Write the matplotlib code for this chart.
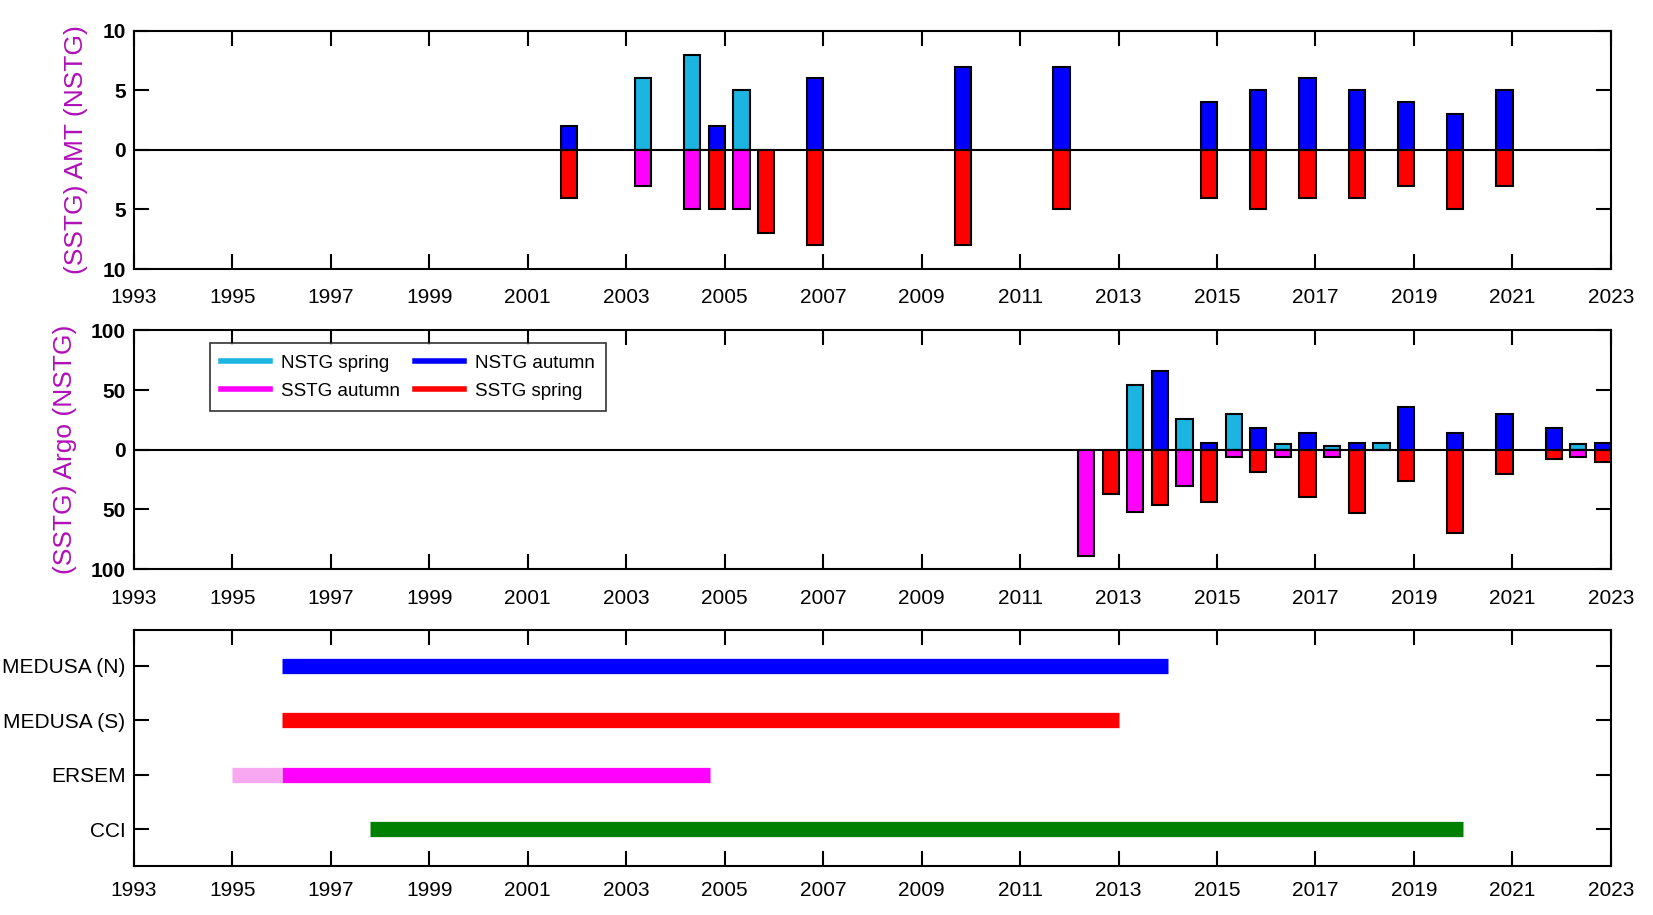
import numpy as np
import matplotlib
matplotlib.use('Agg')
import matplotlib.pyplot as plt
from matplotlib.lines import Line2D

plt.rcParams['font.family'] = ['Liberation Sans', 'DejaVu Sans']

# AMT cruises: spring cruises (NSTG spring / SSTG autumn), autumn cruises (NSTG autumn / SSTG spring)
amt_spring_x = [2003.34, 2004.34, 2005.34]
amt_nstg_spring = [6, 8, 5]
amt_sstg_autumn = [3, 5, 5]
amt_autumn_x = [2001.84, 2004.84, 2005.84, 2006.84, 2009.84, 2011.84, 2014.84,
                2015.84, 2016.84, 2017.84, 2018.84, 2019.84, 2020.84]
amt_nstg_autumn = [2, 2, 0, 6, 7, 7, 4, 5, 6, 5, 4, 3, 5]
amt_sstg_spring = [4, 5, 7, 8, 8, 5, 4, 5, 4, 4, 3, 5, 3]

# Argo floats
argo_spring_x = [2012.34, 2013.34, 2014.34, 2015.34, 2016.34, 2017.34, 2018.34, 2022.34]
argo_nstg_spring = [0, 54, 26, 30, 5, 3, 6, 5]
argo_sstg_autumn = [89, 52, 30, 6, 6, 6, 0, 6]
argo_autumn_x = [2012.84, 2013.84, 2014.84, 2015.84, 2016.84, 2017.84, 2018.84,
                 2019.84, 2020.84, 2021.84, 2022.84]
argo_nstg_autumn = [0, 66, 6, 18, 14, 6, 36, 14, 30, 18, 6]
argo_sstg_spring = [37, 46, 44, 19, 40, 53, 26, 70, 20, 8, 10]

# model / satellite coverage
models = ['MEDUSA (N)', 'MEDUSA (S)', 'ERSEM', 'CCI']
model_start = [1996.0, 1996.0, 1996.0, 1997.8]
model_end = [2014.0, 2013.0, 2004.7, 2020.0]
ersem_extra = [1995.0, 1996.0]

c_nspring = '#1cb4e0'
c_nautumn = '#0000ff'
c_sautumn = '#ff00ff'
c_sspring = '#ff0000'
model_colors = ['#0000ff', '#ff0000', '#ff00ff', '#008000']
label_color = '#b010b8'

years = np.arange(1993, 2024, 2)
bw = 0.33

fig = plt.figure(figsize=(16.53, 9.15), dpi=100)
ax1 = fig.add_axes([0.081, 0.706, 0.8935, 0.2603])
ax2 = fig.add_axes([0.081, 0.378, 0.8935, 0.261])
ax3 = fig.add_axes([0.081, 0.054, 0.8935, 0.258])


def bars(ax, x, up, down, cu, cd):
    for xi, u, d in zip(x, up, down):
        if u > 0:
            ax.bar(xi, u, width=bw, color=cu, edgecolor='black', linewidth=1.5, zorder=3)
        if d > 0:
            ax.bar(xi, -d, width=bw, color=cd, edgecolor='black', linewidth=1.5, zorder=3)


def style(ax, xpad=14):
    ax.set_xlim(1993, 2023)
    ax.set_xticks(years)
    ax.set_xticklabels([str(y) for y in years], fontsize=15)
    ax.tick_params(direction='in', length=11, width=1.5, top=True, right=True, pad=6)
    ax.tick_params(axis='x', pad=xpad)
    for s in ax.spines.values():
        s.set_linewidth(1.5)


bars(ax1, amt_spring_x, amt_nstg_spring, amt_sstg_autumn, c_nspring, c_sautumn)
bars(ax1, amt_autumn_x, amt_nstg_autumn, amt_sstg_spring, c_nautumn, c_sspring)
ax1.axhline(0, color='black', linewidth=1.5, zorder=4)
ax1.set_ylim(-10, 10)
ax1.set_yticks([-10, -5, 0, 5, 10])
ax1.set_yticklabels(['10', '5', '0', '5', '10'], fontsize=15, fontweight='bold')
ax1.set_ylabel('(SSTG) AMT (NSTG)', fontsize=19, color=label_color, labelpad=10)
style(ax1)

bars(ax2, argo_spring_x, argo_nstg_spring, argo_sstg_autumn, c_nspring, c_sautumn)
bars(ax2, argo_autumn_x, argo_nstg_autumn, argo_sstg_spring, c_nautumn, c_sspring)
ax2.axhline(0, color='black', linewidth=1.5, zorder=4)
ax2.set_ylim(-100, 100)
ax2.set_yticks([-100, -50, 0, 50, 100])
ax2.set_yticklabels(['100', '50', '0', '50', '100'], fontsize=15, fontweight='bold')
ax2.set_ylabel('(SSTG) Argo (NSTG)', fontsize=19, color=label_color, labelpad=10)
style(ax2)

handles = [Line2D([], [], color=c_nspring, linewidth=4),
           Line2D([], [], color=c_sautumn, linewidth=4),
           Line2D([], [], color=c_nautumn, linewidth=4),
           Line2D([], [], color=c_sspring, linewidth=4)]
labels = ['NSTG spring', 'SSTG autumn', 'NSTG autumn', 'SSTG spring']
leg = ax2.legend(handles, labels, ncol=2, loc='upper left', bbox_to_anchor=(0.045, 0.985),
                 fontsize=13.5, frameon=True, fancybox=False, edgecolor='black',
                 handlelength=2.6, columnspacing=0.8, borderpad=0.6, labelspacing=0.6,
                 handletextpad=0.6)
leg.get_frame().set_linewidth(1.2)

rows = np.arange(1, len(models) + 1)
for r, s, e, c in zip(rows, model_start, model_end, model_colors):
    ax3.plot([s, e], [r, r], color=c, linewidth=11, solid_capstyle='butt')
ax3.plot(ersem_extra, [3, 3], color='#f8a8f0', linewidth=11, solid_capstyle='butt')
ax3.set_ylim(4.67, 0.33)
ax3.set_yticks(rows)
ax3.set_yticklabels(models, fontsize=15)
style(ax3, xpad=11)

fig.savefig('out.png', dpi=100)
